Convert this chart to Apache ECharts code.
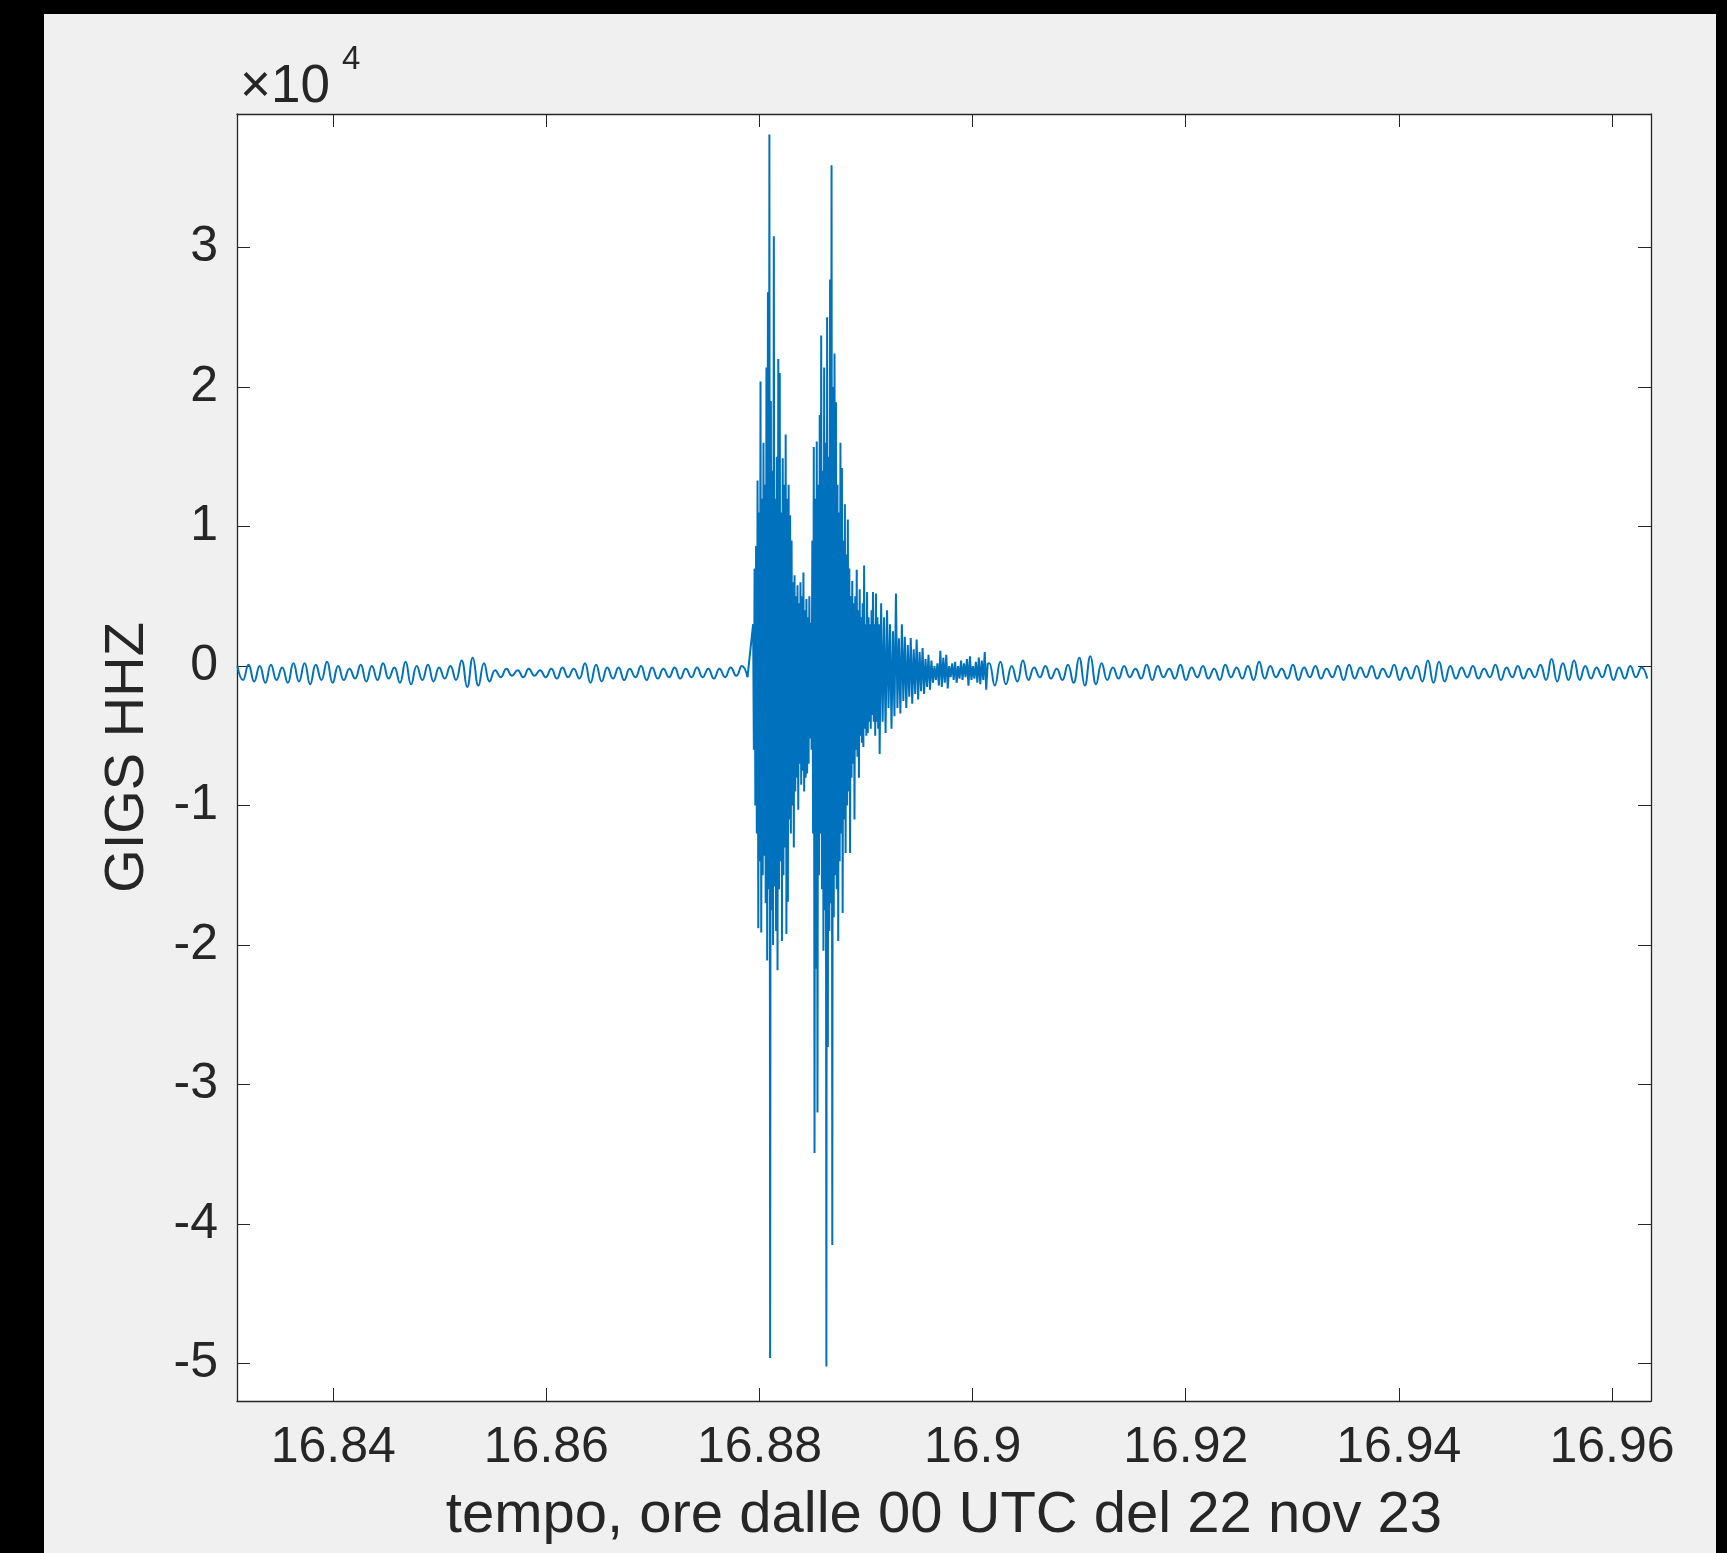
<!DOCTYPE html>
<html>
<head>
<meta charset="utf-8">
<script src="https://cdn.jsdelivr.net/npm/echarts@6.0.0/dist/echarts.min.js"></script>
<style>
  html, body { margin: 0; padding: 0; background: #000; width: 1727px; height: 1553px; overflow: hidden; }
  #chart { position: absolute; left: 44px; top: 14px; width: 1672px; height: 1539px; }
</style>
</head>
<body>
<div id="chart"></div>
<script>
// time axis (hours since 00 UTC) and amplitude in units of 1e4 counts
const startHour = 16.831;
const xTicks = [16.84, 16.86, 16.88, 16.9, 16.92, 16.94, 16.96];
const yTicks = [-5, -4, -3, -2, -1, 0, 1, 2, 3];

// sample spacing of each stretch, seconds
const preDt = 1.894, burstDt = 0.25, tailDt = 0.5, postDt = 1.9;

// background noise before the event
const preNoise = [
  0.0, -0.1, 0.01, -0.11, 0.0, -0.12, 0.01, -0.1, -0.01, -0.12, 0.02, -0.11,
  0.02, -0.13, 0.01, -0.1, 0.03, -0.12, 0.0,
  -0.1, -0.02, -0.09, 0.01, -0.11, 0.0, -0.1, 0.02, -0.09, -0.01,
  -0.12, 0.03, -0.13, 0.0, -0.1, 0.01, -0.11, -0.01, -0.09, 0.0, -0.1,
  0.04, -0.15, 0.06, -0.14, 0.02, -0.11,
  -0.03, -0.08, -0.02, -0.07, -0.03, -0.08, -0.02, -0.07, -0.03, -0.08, -0.02, -0.09, -0.01, -0.08, -0.02, -0.09,
  0.02, -0.12, 0.01, -0.11, -0.01,
  -0.09, -0.01, -0.1, -0.02, -0.08, 0.0, -0.1,
  -0.01, -0.09, -0.02, -0.08, -0.01, -0.09,
  -0.02, -0.08, -0.01, -0.08, -0.02, -0.09, -0.02, -0.08, -0.01, -0.07, 0.0, -0.08
];

// the two arrivals
const burst = [
  0.3, -0.6, 0.7, -1.0, 0.86, -1.2, 1.33, -1.88, 1.1, -1.4,
  2.04, -1.91, 1.2, -1.5, 1.6, -1.36, 1.3, -1.7, 2.14, -2.11,
  2.68, -1.6, 3.81, -4.96, 1.9, -1.75, 1.4, -2.0, 3.08, -1.58,
  1.2, -1.9, 1.5, -2.18, 2.2, -1.6, 2.1, -1.4, 1.1, -1.97,
  1.49, -1.5, 1.3, -1.3, 1.66, -1.92, 1.2, -1.69, 1.3, -1.1,
  1.08, -1.2, 0.9, -1.0, 0.6, -1.3, 0.65, -0.9, 0.5, -0.8,
  0.58, -1.03, 0.45, -0.7, 0.6, -0.85, 0.5, -0.75, 0.67, -0.9,
  0.4, -0.8, 0.48, -0.77, 0.35, -0.7, 0.5, -0.52, 0.31, -0.6,
  0.9, -1.2, 1.57, -3.49, 1.2, -2.17, 1.61, -3.2, 1.3, -1.5,
  1.8, -1.2, 2.37, -1.6, 1.4, -2.04, 2.14, -1.75, 1.6, -5.02,
  2.5, -2.73, 1.5, -1.9, 2.77, -1.7, 3.59, -4.15, 2.0, -1.8,
  2.24, -1.5, 1.89, -1.6, 1.3, -1.97, 1.1, -1.4, 1.6, -1.2,
  1.42, -1.77, 0.9, -1.1, 1.16, -1.34, 0.8, -1.0, 1.05, -0.9,
  0.7, -1.34, 0.5, -0.8, 0.61, -0.7, 0.45, -1.1, 0.5, -0.6,
  0.69, -0.65, 0.4, -0.8, 0.55, -0.5, 0.35, -0.55, 0.45, -0.58,
  0.72, -0.45, 0.3, -0.5, 0.53, -0.48, 0.35, -0.4, 0.3, -0.45,
  0.4, -0.35, 0.53, -0.4, 0.3, -0.5, 0.52, -0.4, 0.35, -0.45,
  0.3
];

// coda
const tail = [
  -0.63, 0.45, -0.4, 0.35, -0.48, 0.4, -0.3, 0.3, -0.45, 0.25,
  -0.36, 0.52, -0.3, 0.2, -0.34, 0.3, -0.25, 0.21, -0.3, 0.15,
  -0.22, 0.2, -0.27, 0.12, -0.2, 0.19, -0.24, 0.1, -0.18, 0.13,
  -0.2, 0.05, -0.15, 0.08, -0.17, 0.04, -0.12, 0.0, -0.1, 0.02,
  -0.14, 0.11, -0.15, 0.06, -0.12, 0.08, -0.16, 0.0, -0.08, 0.02,
  -0.1, 0.03, -0.12, 0.0, -0.09, 0.04, -0.1, 0.02, -0.08, 0.05,
  -0.14, 0.07, -0.1, 0.0, -0.09, 0.03, -0.12, 0.06, -0.13, 0.04,
  -0.1, 0.1, -0.17, 0.02
];

// background noise after the event
const postNoise = [
  0.02, -0.14, 0.03, -0.13, 0.0, -0.11, 0.04, -0.1, -0.01, -0.08, 0.0, -0.09,
  -0.02, -0.1, 0.01, -0.12, 0.06, -0.14, 0.07, -0.13, 0.02, -0.1, -0.01, -0.09,
  0.0, -0.08, -0.02, -0.09, 0.01, -0.1, 0.0, -0.08, -0.02, -0.09, 0.01, -0.1,
  -0.01, -0.08, 0.0, -0.09, -0.02, -0.1, 0.01, -0.08, -0.01, -0.09, 0.0, -0.1,
  0.03, -0.09, 0.0, -0.08, -0.02, -0.09, 0.01, -0.1, -0.01, -0.08, 0.0, -0.09,
  -0.02, -0.08, 0.0, -0.1, 0.01, -0.09, -0.01, -0.08, 0.0, -0.09, -0.02, -0.08,
  0.01, -0.1, -0.01, -0.09, 0.0, -0.11, 0.04, -0.12, 0.03, -0.11, 0.0, -0.09,
  -0.01, -0.08, 0.0, -0.09, -0.02, -0.08, 0.01, -0.1, -0.01, -0.08, 0.0, -0.09,
  -0.02, -0.08, 0.01, -0.1, 0.05, -0.11, 0.02, -0.1, 0.04, -0.1, 0.0, -0.09,
  -0.01, -0.08, 0.01, -0.1, -0.01, -0.09, 0.0, -0.08, -0.01, -0.09
];

function stretch(values, startSec, dt) {
  const pts = values.map((v, i) => [startHour + (startSec + i * dt) / 3600, v]);
  return { pts: pts, end: startSec + values.length * dt };
}

const pre = stretch(preNoise, 0, preDt);
const mid = stretch(burst, pre.end, burstDt);
const coda = stretch(tail, mid.end, tailDt);
const post = stretch(postNoise, coda.end, postDt);

const lineColor = '#0072BD';
const axisColor = '#262626';
const font = 'Liberation Sans';
const lineW = 2;

const fmtX = v => String(+v.toFixed(2));

const chart = echarts.init(document.getElementById('chart'));

const tickStyle = { show: true, inside: true, length: 13, lineStyle: { color: axisColor, width: 1 } };

chart.setOption({
  animation: false,
  backgroundColor: '#f0f0f0',
  grid: {
    left: 193, top: 100, width: 1414, height: 1287,
    show: true, backgroundColor: '#ffffff', borderWidth: 0,
    outerBoundsMode: 'none'
  },
  xAxis: [{
    type: 'value', position: 'bottom', min: 16.83097, max: 16.96366,
    axisLine: { show: true, onZero: false, lineStyle: { color: axisColor, width: 1.3 } },
    axisTick: Object.assign({ customValues: xTicks }, tickStyle),
    axisLabel: { customValues: xTicks, formatter: fmtX, margin: 22, fontSize: 50, fontFamily: font, color: axisColor },
    splitLine: { show: false },
    name: 'tempo, ore dalle 00 UTC del 22 nov 23',
    nameLocation: 'middle', nameGap: 86,
    nameTextStyle: { fontSize: 58, fontFamily: font, color: axisColor }
  }, {
    type: 'value', position: 'top', min: 16.83097, max: 16.96366,
    axisLine: { show: true, onZero: false, lineStyle: { color: axisColor, width: 1.3 } },
    axisTick: Object.assign({ customValues: xTicks }, tickStyle),
    axisLabel: { show: false },
    splitLine: { show: false }
  }],
  yAxis: [{
    type: 'value', position: 'left', min: -5.268, max: 3.957,
    axisLine: { show: true, onZero: false, lineStyle: { color: axisColor, width: 1.3 } },
    axisTick: Object.assign({ customValues: yTicks }, tickStyle),
    axisLabel: { customValues: yTicks, margin: 19, fontSize: 50, fontFamily: font, color: axisColor },
    splitLine: { show: false },
    name: 'GIGS HHZ',
    nameLocation: 'middle', nameGap: 81, nameRotate: 90,
    nameTextStyle: { fontSize: 56, fontFamily: font, color: axisColor }
  }, {
    type: 'value', position: 'right', min: -5.268, max: 3.957,
    axisLine: { show: true, onZero: false, lineStyle: { color: axisColor, width: 1.3 } },
    axisTick: Object.assign({ customValues: yTicks }, tickStyle),
    axisLabel: { show: false },
    splitLine: { show: false }
  }],
  graphic: [
    { type: 'text', left: 196, top: 47, style: { text: '×10', fontSize: 53, fontFamily: font, fill: axisColor } },
    { type: 'text', left: 298, top: 29, style: { text: '4', fontSize: 33, fontFamily: font, fill: axisColor } }
  ],
  series: [{
    type: 'line', showSymbol: false, smooth: 0.5, sampling: 'none',
    lineStyle: { color: lineColor, width: lineW },
    data: pre.pts
  }, {
    type: 'line', showSymbol: false, smooth: false, sampling: 'none',
    lineStyle: { color: lineColor, width: lineW },
    data: [pre.pts[pre.pts.length - 1]].concat(mid.pts, coda.pts)
  }, {
    type: 'line', showSymbol: false, smooth: 0.5, sampling: 'none',
    lineStyle: { color: lineColor, width: lineW },
    data: [coda.pts[coda.pts.length - 1]].concat(post.pts)
  }]
});
</script>
</body>
</html>
